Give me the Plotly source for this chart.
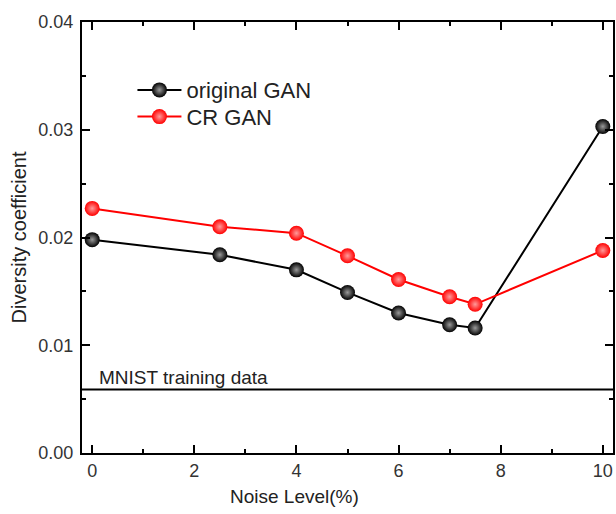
import plotly.graph_objects as go

noise = [0, 2.5, 4, 5, 6, 7, 7.5, 10]
original_gan = [0.0198, 0.0184, 0.0170, 0.0149, 0.0130, 0.0119, 0.0116, 0.0303]
cr_gan = [0.0227, 0.0210, 0.0204, 0.0183, 0.0161, 0.0145, 0.0138, 0.0188]
mnist_level = 0.0059
x_ticks = [0, 2, 4, 6, 8, 10]
y_ticks = [0.00, 0.01, 0.02, 0.03, 0.04]

FONT = "Liberation Sans, Arial, sans-serif"

fig = go.Figure()
fig.add_trace(go.Scatter(
    x=noise, y=original_gan, mode="lines+markers", name="original GAN",
    legend="legend",
    line=dict(color="black", width=2),
    marker=dict(size=15, color="black", symbol="circle",
                gradient=dict(type="radial", color="#9a9a9a"),
                line=dict(width=0)),
))
fig.add_trace(go.Scatter(
    x=noise, y=cr_gan, mode="lines+markers", name="CR GAN",
    legend="legend2",
    line=dict(color="#ff0000", width=2),
    marker=dict(size=15, color="#ff0000", symbol="circle",
                gradient=dict(type="radial", color="#ff9a9a"),
                line=dict(width=0)),
))

fig.add_hline(y=mnist_level, line=dict(color="black", width=2))
fig.add_annotation(x=0.1, y=mnist_level, text="MNIST training data",
                   xref="x", yref="y", xanchor="left", yanchor="bottom",
                   showarrow=False, yshift=-1,
                   font=dict(family=FONT, size=19, color="#222"))
fig.add_annotation(x=0.40, y=-0.1, xref="paper", yref="paper",
                   text="Noise Level(%)", showarrow=False,
                   xanchor="center", yanchor="middle",
                   font=dict(family=FONT, size=19, color="#222"))

axis_common = dict(
    showline=True, linecolor="black", linewidth=2, mirror="ticks",
    ticks="inside", ticklen=8, tickwidth=2, tickcolor="black",
    showgrid=False, zeroline=False,
    tickfont=dict(family=FONT, size=18, color="#333"),
)

fig.update_xaxes(
    range=[-0.2, 10.2], tickvals=x_ticks,
    minor=dict(ticks="inside", ticklen=4, tickwidth=2, tickcolor="black", dtick=1, tick0=0),
    **axis_common,
)
fig.update_yaxes(
    range=[0, 0.04], tickvals=y_ticks, tickformat=".2f",
    ticklabelstandoff=3,
    minor=dict(ticks="inside", ticklen=4, tickwidth=2, tickcolor="black", dtick=0.005, tick0=0),
    title=dict(text="Diversity coefficient", font=dict(family=FONT, size=20, color="#222"), standoff=6),
    **axis_common,
)

legend_common = dict(xanchor="left", yanchor="middle", bgcolor="rgba(0,0,0,0)",
                     itemwidth=44, font=dict(family=FONT, size=22, color="#222"))

fig.update_layout(
    width=616, height=514,
    margin=dict(l=82, r=1, t=22, b=61),
    paper_bgcolor="white", plot_bgcolor="white",
    showlegend=True,
    legend=dict(x=0.095, y=0.842, **legend_common),
    legend2=dict(x=0.095, y=0.78, **legend_common),
)

fig.write_html("out.html")
